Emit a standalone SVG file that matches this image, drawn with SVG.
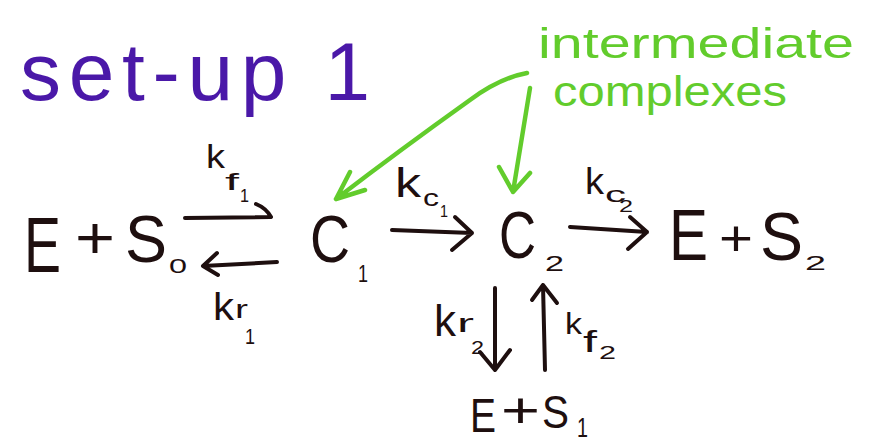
<svg xmlns="http://www.w3.org/2000/svg" width="873" height="445" viewBox="0 0 873 445">
<style>
.ink{font-family:"Liberation Sans","DejaVu Sans",sans-serif;fill:#1e0f0f}
.grn{font-family:"Liberation Sans","DejaVu Sans",sans-serif;fill:#62cc2c}
.ttl{font-family:"Liberation Sans","DejaVu Sans",sans-serif;fill:#4a18a8}
.arr{fill:none;stroke:#1e0f0f;stroke-width:4;stroke-linecap:round;stroke-linejoin:round}
.garr{fill:none;stroke:#62cc2c;stroke-width:4.5;stroke-linecap:round;stroke-linejoin:round}
</style>
<rect width="873" height="445" fill="#ffffff"/>
<g id="title">
<text class="ttl" x="20" y="100" font-size="82" textLength="350" lengthAdjust="spacing">set-up 1</text>
</g>
<g id="label-intermediate">
<text class="grn" x="538" y="58" font-size="42" textLength="316" lengthAdjust="spacingAndGlyphs">intermediate</text>
<text class="grn" x="553" y="106" font-size="42" textLength="234" lengthAdjust="spacingAndGlyphs">complexes</text>
</g>
<g id="species-ES0">
<text class="ink" x="24" y="272" font-size="78" textLength="37" lengthAdjust="spacingAndGlyphs">E</text>
<text class="ink" x="75" y="258" font-size="60" textLength="40" lengthAdjust="spacingAndGlyphs">+</text>
<text class="ink" x="125" y="262" font-size="66" textLength="42" lengthAdjust="spacingAndGlyphs">S</text>
<text class="ink" x="169" y="273" font-size="20" textLength="18" lengthAdjust="spacingAndGlyphs">0</text>
</g>
<g id="species-C1">
<text class="ink" x="310" y="262" font-size="66" textLength="40" lengthAdjust="spacingAndGlyphs">C</text>
<text class="ink" x="358" y="282" font-size="24" textLength="10" lengthAdjust="spacingAndGlyphs">1</text>
</g>
<g id="species-C2">
<text class="ink" x="499" y="258" font-size="66" textLength="37" lengthAdjust="spacingAndGlyphs">C</text>
<text class="ink" x="545" y="271" font-size="22" textLength="19" lengthAdjust="spacingAndGlyphs">2</text>
</g>
<g id="species-ES2">
<text class="ink" x="669" y="260" font-size="72" textLength="39" lengthAdjust="spacingAndGlyphs">E</text>
<text class="ink" x="719" y="255" font-size="50" textLength="34" lengthAdjust="spacingAndGlyphs">+</text>
<text class="ink" x="760" y="260" font-size="68" textLength="43" lengthAdjust="spacingAndGlyphs">S</text>
<text class="ink" x="805" y="270" font-size="20" textLength="21" lengthAdjust="spacingAndGlyphs">2</text>
</g>
<g id="species-ES1">
<text class="ink" x="470" y="432" font-size="48" textLength="26" lengthAdjust="spacingAndGlyphs">E</text>
<text class="ink" x="501" y="427" font-size="50" textLength="39" lengthAdjust="spacingAndGlyphs">+</text>
<text class="ink" x="542" y="428" font-size="46" textLength="27" lengthAdjust="spacingAndGlyphs">S</text>
<text class="ink" x="577" y="437" font-size="28" textLength="11" lengthAdjust="spacingAndGlyphs">1</text>
</g>
<g id="connectors">
<path class="arr" d="M185,218 L270,217 M256,204 Q266,208 271,217"/>
<path class="arr" d="M277,262 L203,266 M217,253 L203,266 L218,275"/>
<path class="arr" d="M392,230 L472,233 M455,217 L472,233 L452,250"/>
<path class="arr" d="M570,227 L647,232 M630,217 L647,232 L628,249"/>
<path class="arr" d="M495,288 L495,370 M480,352 L495,370 L510,350"/>
<path class="arr" d="M545,370 L543,285 M532,300 L543,285 L557,303"/>
<path class="garr" d="M527,73 Q500,78 470,100 Q400,150 336,199 M350,172 L336,199 L365,190"/>
<path class="garr" d="M530,88 L513,192 M499,167 L513,192 L530,173"/>
<g id="rate-kf1">
<text class="ink" x="206" y="168" font-size="34" textLength="19" lengthAdjust="spacingAndGlyphs">k</text>
<text class="ink" x="225" y="190" font-size="24" textLength="14" lengthAdjust="spacingAndGlyphs">f</text>
<text class="ink" x="240" y="202" font-size="18" textLength="9" lengthAdjust="spacingAndGlyphs">1</text>
</g>
<g id="rate-kr1">
<text class="ink" x="213" y="320" font-size="38" textLength="21" lengthAdjust="spacingAndGlyphs">k</text>
<text class="ink" x="235" y="318" font-size="26" textLength="13" lengthAdjust="spacingAndGlyphs">r</text>
<text class="ink" x="245" y="344" font-size="22" textLength="10" lengthAdjust="spacingAndGlyphs">1</text>
</g>
<g id="rate-kc1">
<text class="ink" x="395" y="197" font-size="40" textLength="26" lengthAdjust="spacingAndGlyphs">k</text>
<text class="ink" x="423" y="206" font-size="24" textLength="16" lengthAdjust="spacingAndGlyphs">c</text>
<text class="ink" x="440" y="217" font-size="16" textLength="8" lengthAdjust="spacingAndGlyphs">1</text>
</g>
<g id="rate-kc2">
<text class="ink" x="585" y="194" font-size="36" textLength="19" lengthAdjust="spacingAndGlyphs">k</text>
<text class="ink" x="605" y="202" font-size="22" textLength="21" lengthAdjust="spacingAndGlyphs">c</text>
<text class="ink" x="619" y="212" font-size="16" textLength="14" lengthAdjust="spacingAndGlyphs">2</text>
</g>
<g id="rate-kr2">
<text class="ink" x="434" y="336" font-size="44" textLength="22" lengthAdjust="spacingAndGlyphs">k</text>
<text class="ink" x="457" y="332" font-size="26" textLength="17" lengthAdjust="spacingAndGlyphs">r</text>
<text class="ink" x="471" y="354" font-size="18" textLength="13" lengthAdjust="spacingAndGlyphs">2</text>
</g>
<g id="rate-kf2">
<text class="ink" x="565" y="334" font-size="30" textLength="17" lengthAdjust="spacingAndGlyphs">k</text>
<text class="ink" x="583" y="352" font-size="30" textLength="14" lengthAdjust="spacingAndGlyphs">f</text>
<text class="ink" x="599" y="359" font-size="18" textLength="17" lengthAdjust="spacingAndGlyphs">2</text>
</g>
</g>
</svg>
